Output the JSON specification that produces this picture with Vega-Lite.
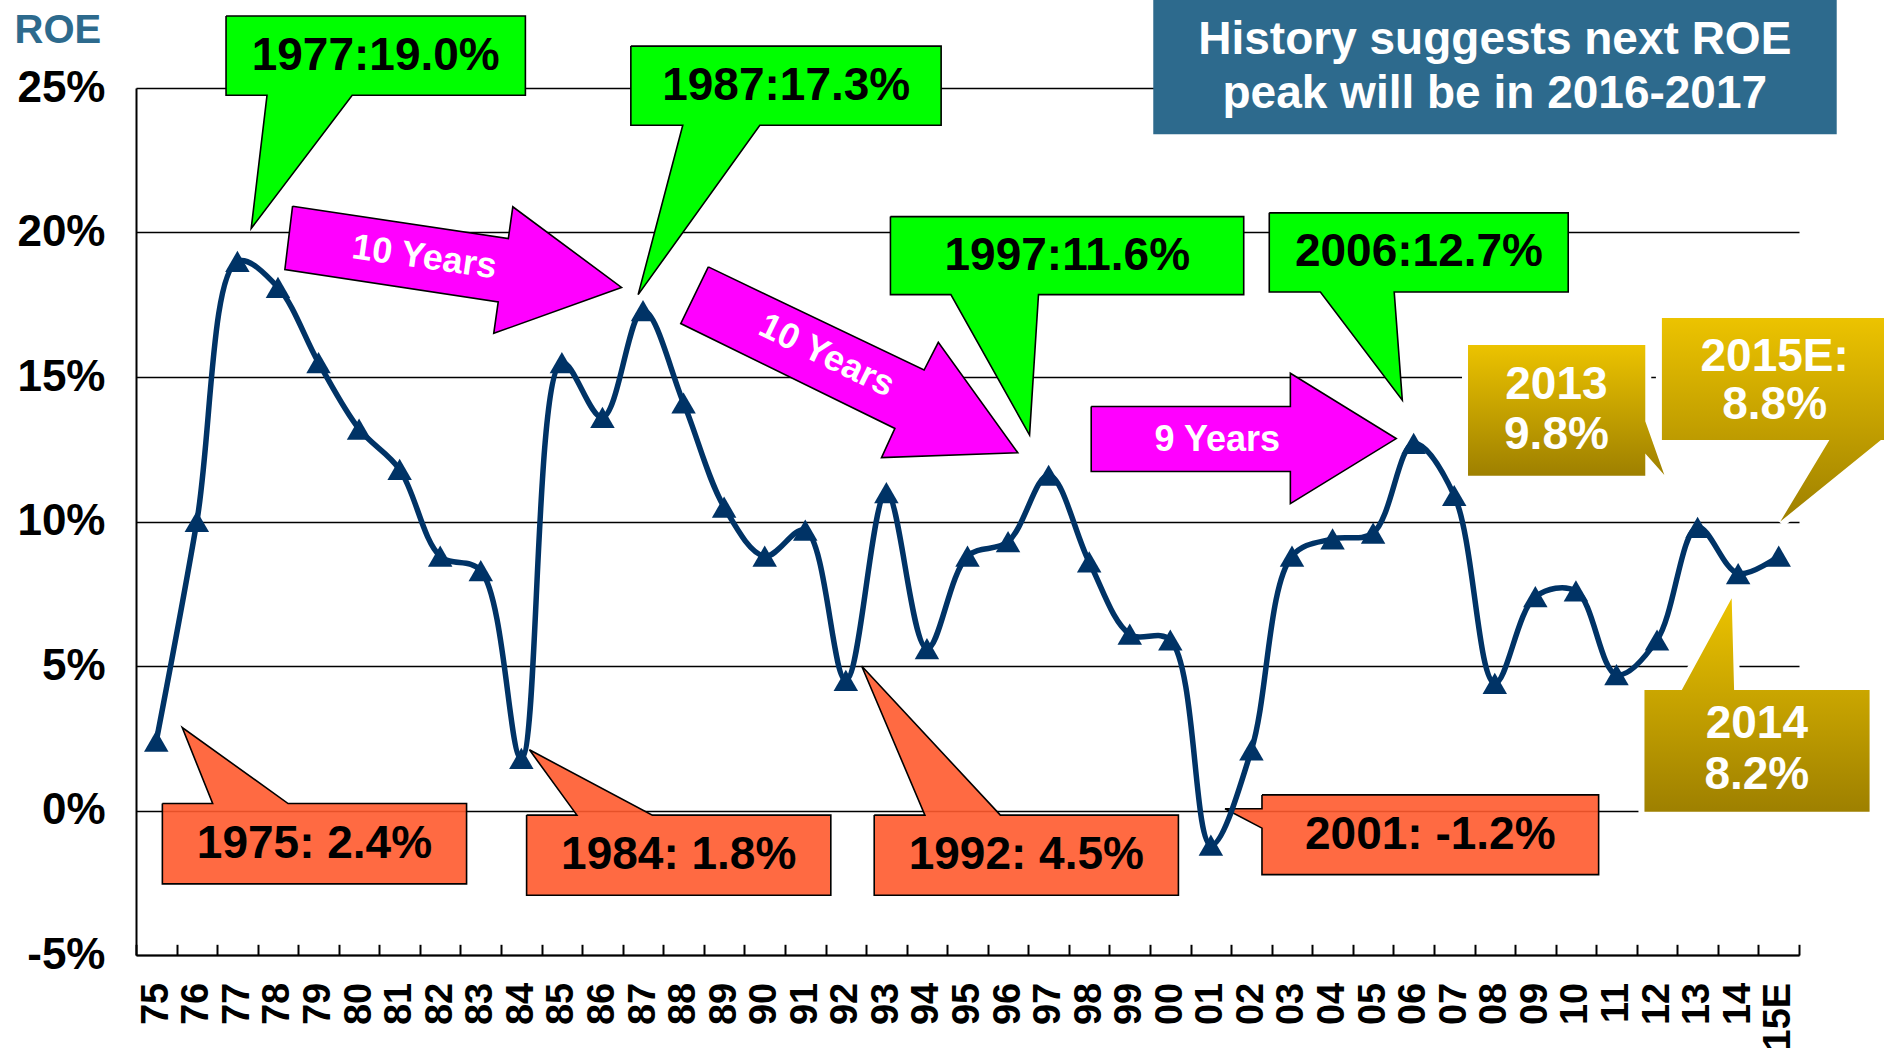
{
  "$schema": "https://vega.github.io/schema/vega-lite/v6.json",
  "width": 1663,
  "height": 867,
  "autosize": {"type": "none"},
  "padding": {"left": 136, "top": 88, "right": 85, "bottom": 98},
  "background": "white",
  "config": {"view": {"stroke": null}, "font": "Liberation Sans"},
  "datasets": {
    "series": [
      {"yr": "75", "v": 2.4}, {"yr": "76", "v": 10.0}, {"yr": "77", "v": 19.0}, {"yr": "78", "v": 18.1},
      {"yr": "79", "v": 15.5}, {"yr": "80", "v": 13.2}, {"yr": "81", "v": 11.8}, {"yr": "82", "v": 8.8},
      {"yr": "83", "v": 8.3}, {"yr": "84", "v": 1.8}, {"yr": "85", "v": 15.5}, {"yr": "86", "v": 13.6},
      {"yr": "87", "v": 17.3}, {"yr": "88", "v": 14.1}, {"yr": "89", "v": 10.5}, {"yr": "90", "v": 8.8},
      {"yr": "91", "v": 9.7}, {"yr": "92", "v": 4.5}, {"yr": "93", "v": 11.0}, {"yr": "94", "v": 5.6},
      {"yr": "95", "v": 8.8}, {"yr": "96", "v": 9.3}, {"yr": "97", "v": 11.6}, {"yr": "98", "v": 8.6},
      {"yr": "99", "v": 6.1}, {"yr": "00", "v": 5.9}, {"yr": "01", "v": -1.2}, {"yr": "02", "v": 2.1},
      {"yr": "03", "v": 8.8}, {"yr": "04", "v": 9.4}, {"yr": "05", "v": 9.6}, {"yr": "06", "v": 12.7},
      {"yr": "07", "v": 10.9}, {"yr": "08", "v": 4.4}, {"yr": "09", "v": 7.4}, {"yr": "10", "v": 7.6},
      {"yr": "11", "v": 4.7}, {"yr": "12", "v": 5.9}, {"yr": "13", "v": 9.8}, {"yr": "14", "v": 8.2},
      {"yr": "15E", "v": 8.8}
    ],
    "blue": [{"x": 1999.58, "x2": 2016.43, "y": 28.6, "y2": 23.4}],
    "green": [
      {"id": "g1", "o": 1, "x": 1976.72, "y": 27.49}, {"id": "g1", "o": 2, "x": 1984.10, "y": 27.49},
      {"id": "g1", "o": 3, "x": 1984.10, "y": 24.75}, {"id": "g1", "o": 4, "x": 1979.83, "y": 24.75},
      {"id": "g1", "o": 5, "x": 1977.34, "y": 20.14}, {"id": "g1", "o": 6, "x": 1977.73, "y": 24.75},
      {"id": "g1", "o": 7, "x": 1976.72, "y": 24.75}, {"id": "g1", "o": 8, "x": 1976.72, "y": 27.49},
      {"id": "g2", "o": 1, "x": 1986.70, "y": 26.45}, {"id": "g2", "o": 2, "x": 1994.35, "y": 26.45},
      {"id": "g2", "o": 3, "x": 1994.35, "y": 23.71}, {"id": "g2", "o": 4, "x": 1989.88, "y": 23.71},
      {"id": "g2", "o": 5, "x": 1986.88, "y": 17.85}, {"id": "g2", "o": 6, "x": 1987.98, "y": 23.71},
      {"id": "g2", "o": 7, "x": 1986.70, "y": 23.71}, {"id": "g2", "o": 8, "x": 1986.70, "y": 26.45},
      {"id": "g3", "o": 1, "x": 1993.10, "y": 20.55}, {"id": "g3", "o": 2, "x": 2001.81, "y": 20.55},
      {"id": "g3", "o": 3, "x": 2001.81, "y": 17.85}, {"id": "g3", "o": 4, "x": 1996.75, "y": 17.85},
      {"id": "g3", "o": 5, "x": 1996.53, "y": 12.99}, {"id": "g3", "o": 6, "x": 1994.59, "y": 17.85},
      {"id": "g3", "o": 7, "x": 1993.10, "y": 17.85}, {"id": "g3", "o": 8, "x": 1993.10, "y": 20.55},
      {"id": "g4", "o": 1, "x": 2002.44, "y": 20.68}, {"id": "g4", "o": 2, "x": 2009.81, "y": 20.68},
      {"id": "g4", "o": 3, "x": 2009.81, "y": 17.94}, {"id": "g4", "o": 4, "x": 2005.52, "y": 17.94},
      {"id": "g4", "o": 5, "x": 2005.72, "y": 14.20}, {"id": "g4", "o": 6, "x": 2003.70, "y": 17.94},
      {"id": "g4", "o": 7, "x": 2002.44, "y": 17.94}, {"id": "g4", "o": 8, "x": 2002.44, "y": 20.68}
    ],
    "red": [
      {"id": "r1", "o": 1, "x": 1975.15, "y": 0.24}, {"id": "r1", "o": 2, "x": 1976.39, "y": 0.24},
      {"id": "r1", "o": 3, "x": 1975.64, "y": 2.87}, {"id": "r1", "o": 4, "x": 1978.25, "y": 0.24},
      {"id": "r1", "o": 5, "x": 1982.65, "y": 0.24}, {"id": "r1", "o": 6, "x": 1982.65, "y": -2.54},
      {"id": "r1", "o": 7, "x": 1975.15, "y": -2.54}, {"id": "r1", "o": 8, "x": 1975.15, "y": 0.24},
      {"id": "r2", "o": 1, "x": 1984.13, "y": -0.16}, {"id": "r2", "o": 2, "x": 1985.37, "y": -0.16},
      {"id": "r2", "o": 3, "x": 1984.20, "y": 2.10}, {"id": "r2", "o": 4, "x": 1987.23, "y": -0.16},
      {"id": "r2", "o": 5, "x": 1991.63, "y": -0.16}, {"id": "r2", "o": 6, "x": 1991.63, "y": -2.93},
      {"id": "r2", "o": 7, "x": 1984.13, "y": -2.93}, {"id": "r2", "o": 8, "x": 1984.13, "y": -0.16},
      {"id": "r3", "o": 1, "x": 1992.70, "y": -0.16}, {"id": "r3", "o": 2, "x": 1993.95, "y": -0.16},
      {"id": "r3", "o": 3, "x": 1992.39, "y": 5.00}, {"id": "r3", "o": 4, "x": 1995.81, "y": -0.16},
      {"id": "r3", "o": 5, "x": 2000.20, "y": -0.16}, {"id": "r3", "o": 6, "x": 2000.20, "y": -2.93},
      {"id": "r3", "o": 7, "x": 1992.70, "y": -2.93}, {"id": "r3", "o": 8, "x": 1992.70, "y": -0.16},
      {"id": "r4", "o": 1, "x": 2002.26, "y": 0.54}, {"id": "r4", "o": 2, "x": 2010.56, "y": 0.54},
      {"id": "r4", "o": 3, "x": 2010.56, "y": -2.22}, {"id": "r4", "o": 4, "x": 2002.26, "y": -2.22},
      {"id": "r4", "o": 5, "x": 2002.26, "y": -0.61}, {"id": "r4", "o": 6, "x": 2001.35, "y": 0.06},
      {"id": "r4", "o": 7, "x": 2002.26, "y": 0.06}, {"id": "r4", "o": 8, "x": 2002.26, "y": 0.54}
    ],
    "magenta": [
      {"id": "m1", "o": 1, "x": 1978.36, "y": 20.91}, {"id": "m1", "o": 2, "x": 1983.68, "y": 19.79},
      {"id": "m1", "o": 3, "x": 1983.79, "y": 20.89}, {"id": "m1", "o": 4, "x": 1986.47, "y": 18.10},
      {"id": "m1", "o": 5, "x": 1983.32, "y": 16.51}, {"id": "m1", "o": 6, "x": 1983.43, "y": 17.60},
      {"id": "m1", "o": 7, "x": 1978.17, "y": 18.72}, {"id": "m1", "o": 8, "x": 1978.36, "y": 20.91},
      {"id": "m2", "o": 1, "x": 1988.61, "y": 18.81}, {"id": "m2", "o": 2, "x": 1993.93, "y": 15.24},
      {"id": "m2", "o": 3, "x": 1994.28, "y": 16.20}, {"id": "m2", "o": 4, "x": 1996.24, "y": 12.38},
      {"id": "m2", "o": 5, "x": 1992.88, "y": 12.21}, {"id": "m2", "o": 6, "x": 1993.21, "y": 13.22},
      {"id": "m2", "o": 7, "x": 1987.93, "y": 16.85}, {"id": "m2", "o": 8, "x": 1988.61, "y": 18.81},
      {"id": "m3", "o": 1, "x": 1998.05, "y": 13.98}, {"id": "m3", "o": 2, "x": 2002.96, "y": 13.98},
      {"id": "m3", "o": 3, "x": 2002.96, "y": 15.13}, {"id": "m3", "o": 4, "x": 2005.57, "y": 12.87},
      {"id": "m3", "o": 5, "x": 2002.96, "y": 10.62}, {"id": "m3", "o": 6, "x": 2002.96, "y": 11.73},
      {"id": "m3", "o": 7, "x": 1998.05, "y": 11.73}, {"id": "m3", "o": 8, "x": 1998.05, "y": 13.98}
    ],
    "gold": [
      {"id": "y1", "o": 1, "x": 2007.34, "y": 16.11}, {"id": "y1", "o": 2, "x": 2011.71, "y": 16.11},
      {"id": "y1", "o": 3, "x": 2011.71, "y": 13.47}, {"id": "y1", "o": 4, "x": 2012.18, "y": 11.61},
      {"id": "y1", "o": 5, "x": 2011.71, "y": 12.35}, {"id": "y1", "o": 6, "x": 2011.71, "y": 11.58},
      {"id": "y1", "o": 7, "x": 2007.34, "y": 11.58}, {"id": "y1", "o": 8, "x": 2007.34, "y": 16.11},
      {"id": "y2", "o": 1, "x": 2012.12, "y": 17.04}, {"id": "y2", "o": 2, "x": 2017.7, "y": 17.04},
      {"id": "y2", "o": 3, "x": 2017.7, "y": 12.82}, {"id": "y2", "o": 4, "x": 2017.52, "y": 12.82},
      {"id": "y2", "o": 5, "x": 2015.04, "y": 10.0}, {"id": "y2", "o": 6, "x": 2016.25, "y": 12.82},
      {"id": "y2", "o": 7, "x": 2012.12, "y": 12.82}, {"id": "y2", "o": 8, "x": 2012.12, "y": 17.04},
      {"id": "y3", "o": 1, "x": 2011.69, "y": 4.17}, {"id": "y3", "o": 2, "x": 2012.61, "y": 4.17},
      {"id": "y3", "o": 3, "x": 2013.84, "y": 7.34}, {"id": "y3", "o": 4, "x": 2013.90, "y": 4.17},
      {"id": "y3", "o": 5, "x": 2017.24, "y": 4.17}, {"id": "y3", "o": 6, "x": 2017.24, "y": -0.04},
      {"id": "y3", "o": 7, "x": 2011.69, "y": -0.04}, {"id": "y3", "o": 8, "x": 2011.69, "y": 4.17}
    ],
    "blackText": [
      {"x": 1980.41, "y": 26.12, "t": "1977:19.0%"},
      {"x": 1990.53, "y": 25.08, "t": "1987:17.3%"},
      {"x": 1997.46, "y": 19.2, "t": "1997:11.6%"},
      {"x": 2006.13, "y": 19.31, "t": "2006:12.7%"},
      {"x": 1978.9, "y": -1.15, "t": "1975: 2.4%"},
      {"x": 1987.88, "y": -1.55, "t": "1984: 1.8%"},
      {"x": 1996.45, "y": -1.55, "t": "1992: 4.5%"},
      {"x": 2006.41, "y": -0.84, "t": "2001: -1.2%"}
    ],
    "whiteText": [
      {"x": 2009.52, "y": 14.74, "t": "2013"},
      {"x": 2009.52, "y": 12.99, "t": "9.8%"},
      {"x": 2014.9, "y": 15.69, "t": "2015E:"},
      {"x": 2014.9, "y": 14.03, "t": "8.8%"},
      {"x": 2014.46, "y": 2.98, "t": "2014"},
      {"x": 2014.46, "y": 1.24, "t": "8.2%"},
      {"x": 2008.0, "y": 26.66, "t": "History suggests next ROE"},
      {"x": 2008.0, "y": 24.79, "t": "peak will be in 2016-2017"}
    ],
    "arrow1": [{"x": 1981.61, "y": 19.14, "t": "10 Years"}],
    "arrow2": [{"x": 1991.53, "y": 15.74, "t": "10 Years"}],
    "arrow3": [{"x": 2001.16, "y": 12.83, "t": "9 Years"}]
  },
  "resolve": {"scale": {"x": "independent", "y": "independent"}},
  "layer": [
    {
      "encoding": {
        "x": {"field": "x", "type": "quantitative", "scale": {"domain": [1974.5, 2015.5], "nice": false, "zero": false}, "axis": null},
        "y": {"field": "y", "type": "quantitative", "scale": {"domain": [-5, 25], "nice": false, "zero": false}, "axis": null}
      },
      "layer": [
        {
          "data": {"name": "blue"},
          "mark": {"type": "rect", "color": "#2d6a8d"},
          "encoding": {"x2": {"field": "x2"}, "y2": {"field": "y2"}}
        },
        {
          "data": {"name": "green"},
          "mark": {"type": "line", "fill": "#00ff00", "stroke": "black", "strokeWidth": 1.6, "strokeJoin": "miter"},
          "encoding": {"order": {"field": "o", "type": "quantitative"}, "detail": {"field": "id", "type": "nominal"}}
        },
        {
          "data": {"name": "red"},
          "mark": {"type": "line", "fill": "#ff5a2e", "fillOpacity": 0.9, "stroke": "black", "strokeWidth": 1.6, "strokeJoin": "miter"},
          "encoding": {"order": {"field": "o", "type": "quantitative"}, "detail": {"field": "id", "type": "nominal"}}
        },
        {
          "data": {"name": "magenta"},
          "mark": {"type": "line", "fill": "#ff00ff", "stroke": "black", "strokeWidth": 1.6, "strokeJoin": "miter"},
          "encoding": {"order": {"field": "o", "type": "quantitative"}, "detail": {"field": "id", "type": "nominal"}}
        },
        {
          "data": {"name": "gold"},
          "mark": {"type": "line", "fill": "white", "stroke": "white", "strokeWidth": 12},
          "encoding": {"order": {"field": "o", "type": "quantitative"}, "detail": {"field": "id", "type": "nominal"}}
        },
        {
          "data": {"name": "gold"},
          "mark": {
            "type": "line",
            "strokeWidth": 0,
            "fill": {"gradient": "linear", "x1": 0, "y1": 0, "x2": 0, "y2": 1, "stops": [{"offset": 0, "color": "#ecc300"}, {"offset": 1, "color": "#9e8000"}]}
          },
          "encoding": {"order": {"field": "o", "type": "quantitative"}, "detail": {"field": "id", "type": "nominal"}}
        },
        {
          "data": {"name": "blackText"},
          "mark": {"type": "text", "fontSize": 46, "fontWeight": "bold", "color": "black", "align": "center", "baseline": "middle"},
          "encoding": {"text": {"field": "t"}}
        },
        {
          "data": {"name": "whiteText"},
          "mark": {"type": "text", "fontSize": 46, "fontWeight": "bold", "color": "white", "align": "center", "baseline": "middle"},
          "encoding": {"text": {"field": "t"}}
        },
        {
          "data": {"name": "arrow1"},
          "mark": {"type": "text", "fontSize": 36, "fontWeight": "bold", "color": "white", "align": "center", "baseline": "middle", "angle": 8},
          "encoding": {"text": {"field": "t"}}
        },
        {
          "data": {"name": "arrow2"},
          "mark": {"type": "text", "fontSize": 36, "fontWeight": "bold", "color": "white", "align": "center", "baseline": "middle", "angle": 26},
          "encoding": {"text": {"field": "t"}}
        },
        {
          "data": {"name": "arrow3"},
          "mark": {"type": "text", "fontSize": 36, "fontWeight": "bold", "color": "white", "align": "center", "baseline": "middle"},
          "encoding": {"text": {"field": "t"}}
        }
      ]
    },
    {
      "data": {"name": "series"},
      "encoding": {
        "x": {
          "field": "yr", "type": "ordinal", "sort": null, "bandPosition": 0.5,
          "scale": {"type": "band", "paddingInner": 0, "paddingOuter": 0},
          "axis": {
            "title": null, "labelAngle": 270, "labelFontSize": 38, "labelFont": "Liberation Sans", "labelFontWeight": "bold",
            "labelColor": "black", "labelPadding": 38, "labelOverlap": false, "labelBound": false,
            "tickBand": "extent", "tickSize": -10.7, "tickColor": "black", "tickWidth": 2,
            "domainColor": "black", "domainWidth": 2, "grid": false
          }
        },
        "y": {
          "field": "v", "type": "quantitative",
          "scale": {"domain": [-5, 25], "nice": false, "zero": false},
          "axis": {
            "values": [-5, 0, 5, 10, 15, 20, 25], "labelExpr": "datum.value + '%'",
            "labelFontSize": 44, "labelFont": "Liberation Sans", "labelFontWeight": "bold", "labelColor": "black",
            "labelPadding": 31, "ticks": false, "domainColor": "black", "domainWidth": 2,
            "grid": true, "gridColor": "black", "gridWidth": 1.6,
            "title": "ROE", "titleAngle": 0, "titleAlign": "left", "titleBaseline": "alphabetic",
            "titleX": -122, "titleY": -46, "titleFontSize": 40, "titleFont": "Liberation Sans",
            "titleFontWeight": "bold", "titleColor": "#2d6a8d"
          }
        }
      },
      "layer": [
        {"mark": {"type": "line", "interpolate": "catmull-rom", "color": "#003366", "strokeWidth": 5.5}},
        {"mark": {"type": "point", "shape": "triangle-up", "filled": true, "color": "#003366", "size": 600, "opacity": 1}}
      ]
    }
  ]
}
